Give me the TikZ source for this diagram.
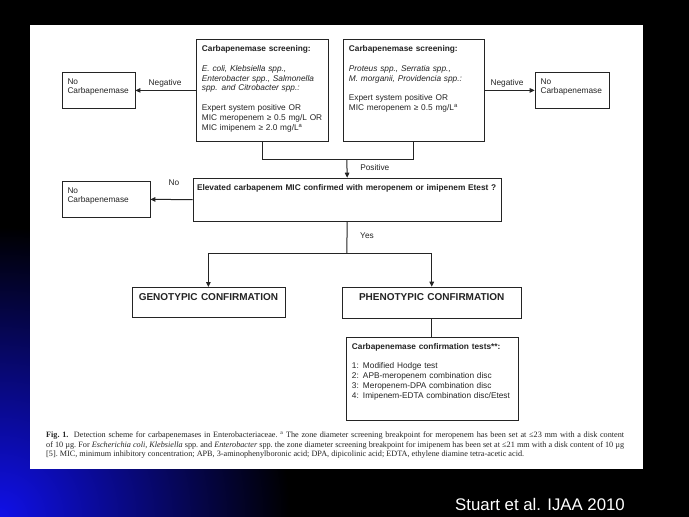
\documentclass[tikz,border=0pt]{standalone}
\usepackage{fontspec}
\setmainfont{Liberation Sans}
\newfontfamily\capfont{Liberation Serif}
\usetikzlibrary{arrows.meta}
\definecolor{ink}{HTML}{242424}
\definecolor{slideblue}{HTML}{1010E8}
\begin{document}
\begin{tikzpicture}[x=1pt, y=-1pt,
    box/.style={draw=ink, text=ink, line width=0.8pt, anchor=north west, align=left,
      inner xsep=5.5pt, inner ysep=6pt, text height=6pt,
      font=\fontsize{8.3}{9.8}\selectfont},
    big/.style={box, align=center, text height=7.2pt,
      font=\bfseries\fontsize{10}{12}\selectfont},
    lbl/.style={text=ink, inner sep=0pt, font=\fontsize{8.3}{10}\selectfont},
    link/.style={draw=ink, line width=1pt},
    arr/.style={link, -{Triangle[length=5pt,width=4.5pt]}}]
  \useasboundingbox (0,0) rectangle (689,517);
  \fill[black] (0,0) rectangle (689,517);
  \begin{scope}
    \clip (0,0) rectangle (689,517);
    \shade[inner color=slideblue, outer color=black] (0,517) circle (290);
  \end{scope}
  \fill[white] (30,25) rectangle (643,469);

  \node[box, text width=62pt, text depth=18.6pt] (noA) at (61.6,71.7) {No\\Carbapenemase};
  \node[box, text width=121pt, text depth=83.4pt] (scrA) at (196,39.3)
    {\textbf{Carbapenemase screening:}\\[9.8pt]
     \textit{E. coli, Klebsiella spp.,}\\
     \textit{Enterobacter spp., Salmonella}\\
     \textit{spp. and Citrobacter spp.:}\\[9.8pt]
     Expert system positive OR\\
     MIC meropenem ≥ 0.5 mg/L OR\\
     MIC imipenem ≥ 2.0 mg/L\textsuperscript{a}};
  \node[box, text width=130pt, text depth=83.4pt] (scrB) at (343,39.3)
    {\textbf{Carbapenemase screening:}\\[9.8pt]
     \textit{Proteus spp., Serratia spp.,}\\
     \textit{M. morganii, Providencia spp.:}\\[9.8pt]
     Expert system positive OR\\
     MIC meropenem ≥ 0.5 mg/L\textsuperscript{a}};
  \node[box, text width=63pt, text depth=18.6pt] (noB) at (534.7,71.7) {No\\Carbapenemase};
  \node[box, inner xsep=4pt, text width=300.4pt, text depth=25pt] (elev) at (192.6,177.7)
    {\textbf{Elevated carbapenem MIC confirmed with meropenem or imipenem Etest ?}};
  \node[box, text width=77pt, text depth=18.6pt] (noC) at (61.6,180.7) {No\\Carbapenemase};
  \node[big, text width=142pt, text depth=10.5pt] (geno) at (131.5,287) {GENOTYPIC CONFIRMATION};
  \node[big, text width=168.3pt, text depth=11.8pt] (pheno) at (341.7,286.7) {PHENOTYPIC CONFIRMATION};
  \node[box, text width=160.6pt, text depth=65pt] (tests) at (346,337)
    {\textbf{Carbapenemase confirmation tests**:}\\[9.6pt]
     1: Modified Hodge test\\
     2: APB-meropenem combination disc\\
     3: Meropenem-DPA combination disc\\
     4: Imipenem-EDTA combination disc/Etest};

  \coordinate (join) at (346.8,159.3);
  \coordinate (split) at (346.8,253.3);
  \draw[arr] (scrA.west) -- (noA.east);
  \draw[arr] (scrB.east) -- (noB.west);
  \draw[link] (scrA.south) |- (join) -| (scrB.south);
  \draw[arr] (join) -- (elev.north);
  \draw[arr] (elev.west) -- (noC.east);
  \draw[link] (elev.south) -- (split);
  \draw[arr] (split) -| (geno.north);
  \draw[arr] (split) -| (pheno.north);
  \draw[link] (pheno.south) -- (pheno.south |- tests.north);

  \node[lbl] (negA) at (165.1,83.3) {Negative};
  \node[lbl] (negB) at (507,83.3) {Negative};
  \node[lbl] (pos) at (374.8,167.7) {Positive};
  \node[lbl] (no) at (174,182.7) {No};
  \node[lbl] (yes) at (367,236) {Yes};

  \node[text=ink, anchor=base west, inner sep=0pt, text width=578pt, align=justify,
    font=\capfont\frenchspacing\fontsize{8.2}{9.6}\selectfont] (cap) at (46,437.5)
    {\textbf{Fig. 1.}\ \ Detection scheme for carbapenemases in Enterobacteriaceae. \textsuperscript{a} The zone diameter screening breakpoint for meropenem has been set at ≤23 mm with a disk content\linebreak\relax
     of 10 µg. For \textit{Escherichia coli}, \textit{Klebsiella} spp. and \textit{Enterobacter} spp. the zone diameter screening breakpoint for imipenem has been set at ≤21 mm with a disk content of 10 µg\linebreak\relax
     [5]. MIC, minimum inhibitory concentration; APB, 3-aminophenylboronic acid; DPA, dipicolinic acid; EDTA, ethylene diamine tetra-acetic acid.};
  \node[text=white, anchor=base west, inner sep=0pt, font=\fontsize{16.8}{20}\selectfont] (src) at (455,510.5)
    {Stuart et al. IJAA 2010};
\end{tikzpicture}
\end{document}
